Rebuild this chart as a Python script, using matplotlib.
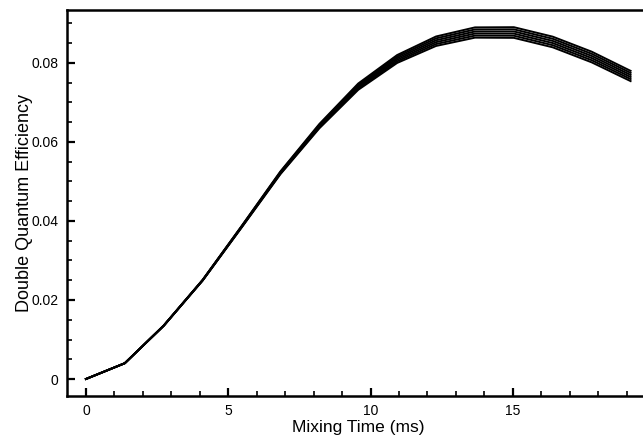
import matplotlib
matplotlib.use("Agg")
import matplotlib.pyplot as plt
from matplotlib.ticker import MultipleLocator, FuncFormatter

mixing_time = [0, 1.367, 2.734, 4.101, 5.468, 6.835, 8.202, 9.569, 10.936,
               12.303, 13.67, 15.037, 16.404, 17.771, 19.138]

eff_1 = [0, 0.0040, 0.01345, 0.0249, 0.0383, 0.05185, 0.06345, 0.0732, 0.0800,
         0.0843, 0.0864, 0.08635, 0.08395, 0.08015, 0.0754]
eff_2 = [0, 0.0040, 0.01347, 0.02494, 0.03838, 0.05199, 0.06367, 0.07352, 0.0804,
         0.08478, 0.08692, 0.08689, 0.08449, 0.08069, 0.07592]
eff_3 = [0, 0.0040, 0.01349, 0.02498, 0.03846, 0.05213, 0.06389, 0.07384, 0.0808,
         0.08526, 0.08744, 0.08743, 0.08503, 0.08123, 0.07644]
eff_4 = [0, 0.0040, 0.01351, 0.02502, 0.03854, 0.05227, 0.06411, 0.07416, 0.0812,
         0.08574, 0.08796, 0.08797, 0.08557, 0.08177, 0.07696]
eff_5 = [0, 0.0040, 0.01353, 0.02506, 0.03862, 0.05241, 0.06433, 0.07448, 0.0816,
         0.08622, 0.08848, 0.08851, 0.08611, 0.08231, 0.07748]
eff_6 = [0, 0.0040, 0.01355, 0.0251, 0.0387, 0.05255, 0.06455, 0.0748, 0.0820,
         0.0867, 0.0890, 0.08905, 0.08665, 0.08285, 0.0780]

series = [eff_1, eff_2, eff_3, eff_4, eff_5, eff_6]

x_ticks = [0, 5, 10, 15]
y_ticks = [0, 0.02, 0.04, 0.06, 0.08]

plt.rcParams['font.family'] = ['Liberation Sans', 'DejaVu Sans']

fig = plt.figure(figsize=(6.43, 4.41), dpi=100)
ax = fig.add_axes([67/643, 1 - 396/441, 1 - 67/643 + 0.01, (396 - 10)/441])

for s in series:
    ax.plot(mixing_time, s, color='black', lw=1.4)

ax.set_xlim(-0.664, 19.8)
ax.set_ylim(-0.0043, 0.0934)

ax.set_xticks(x_ticks)
ax.set_yticks(y_ticks)
ax.xaxis.set_minor_locator(MultipleLocator(1))
ax.yaxis.set_minor_locator(MultipleLocator(0.005))
ax.yaxis.set_major_formatter(FuncFormatter(lambda v, p: '0' if abs(v) < 1e-12 else f'{v:g}'))

ax.tick_params(which='major', direction='in', length=6, width=1.6, labelsize=10, pad=6)
ax.tick_params(which='minor', direction='in', length=3.5, width=1.2)
ax.tick_params(top=False, right=False)

for side in ['left', 'bottom', 'top']:
    ax.spines[side].set_linewidth(1.8)
ax.spines['right'].set_visible(False)

ax.set_xlabel('Mixing Time (ms)', fontsize=12.5, labelpad=1)
ax.set_ylabel('Double Quantum Efficiency', fontsize=13, labelpad=-1)

fig.savefig('out.png', dpi=100)
